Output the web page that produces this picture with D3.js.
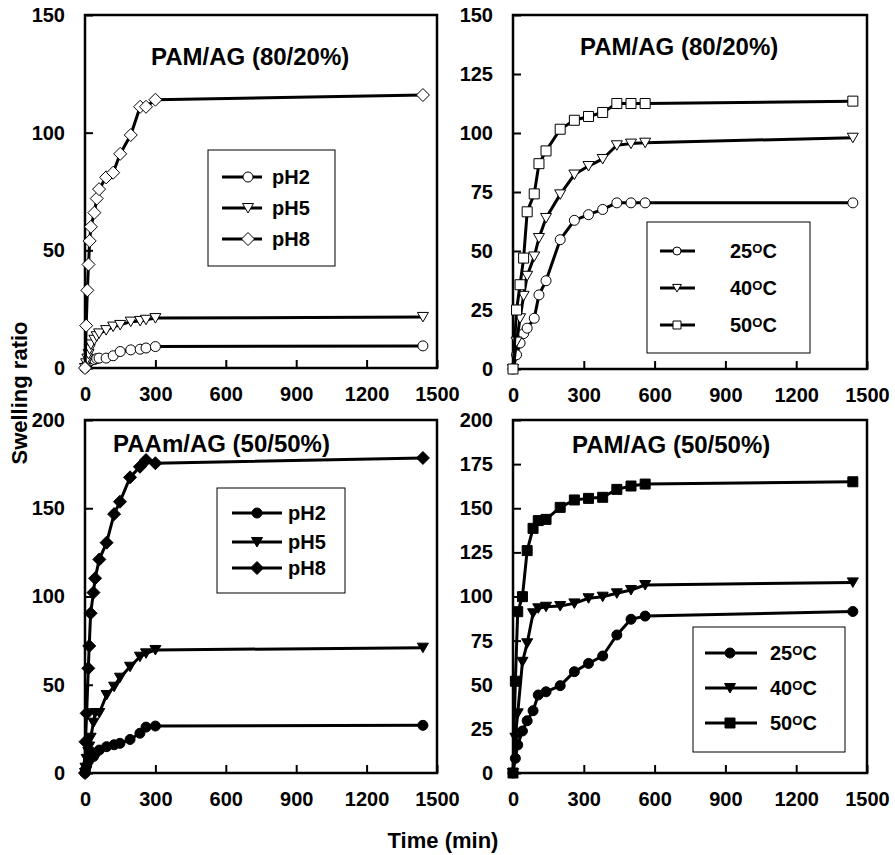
<!DOCTYPE html>
<html>
<head>
<meta charset="utf-8">
<script src="https://cdn.jsdelivr.net/npm/d3@7"></script>
<style>
  body { margin: 0; background: #fff; }
  text { font-family: "Liberation Sans", Arial, sans-serif; font-weight: bold; fill: #000; }
</style>
</head>
<body>
<svg id="chart" width="895" height="855"></svg>
<script>
// ---- data ----
const xTicks = [0, 300, 600, 900, 1200, 1500]

// top-left : pH, PAM/AG 80/20
const tA = [0, 5, 10, 15, 20, 25, 40, 50, 60, 90, 120, 150, 195, 235, 260, 300, 1440]
const a_pH2 = [0, 1, 1.8, 2.4, 2.8, 3.2, 3.6, 4, 4.2, 4.2, 5.2, 7, 7.7, 8, 8.5, 9.1, 9.4]
const a_pH5 = [0, 2, 4, 6, 8, 10, 12, 13.5, 14.7, 16.1, 17.6, 18.3, 19.7, 20, 20.5, 21.2, 21.7]
const a_pH8 = [0, 18, 33, 44, 54, 60, 66, 72, 76, 81, 83, 91, 99, 111, 111, 114, 116]

// top-right : temperature, PAM/AG 80/20
const tB = [0, 15, 30, 45, 60, 90, 110, 140, 200, 260, 320, 380, 440, 500, 560, 1440]
const b_25 = [0, 6, 11, 15, 17.3, 21.5, 31.4, 37.4, 54.8, 63, 65.4, 67.6, 70.4, 70.4, 70.4, 70.4]
const b_40 = [0, 11.6, 21.5, 31, 39.5, 47.7, 55.5, 64, 74, 82.4, 86, 89, 94.8, 95.5, 95.9, 98]
const b_50 = [0, 25, 35.7, 47, 66.6, 74.2, 87, 92.4, 101.6, 105.4, 107, 108.7, 112.5, 112.5, 112.5, 113.5]

// bottom-left : pH, PAAm/AG 50/50
const tC = [0, 2, 7, 14, 18, 24, 36, 43, 61, 92, 124, 149, 192, 234, 260, 300, 1440]
const c_pH2 = [0, 2, 4, 6.6, 8, 9, 9.3, 11, 13, 14.9, 16, 16.8, 19, 22.5, 26, 26.6, 27]
const c_pH5 = [0, 3, 8, 12, 15, 20, 28.5, 34, 34, 44.2, 48.9, 54, 60.2, 65.9, 67.8, 69.7, 71]
const c_pH8 = [0, 17.7, 33.8, 59.3, 72, 90.5, 102.2, 110.3, 121, 130.5, 146.7, 153.7, 167.5, 173.5, 177.3, 175.5, 178.5]

// bottom-right : temperature, PAM/AG 50/50
const tD = [0, 10, 20, 40, 60, 85, 107, 140, 200, 260, 320, 380, 440, 500, 560, 1440]
const d_25 = [0, 8.3, 15.9, 23.8, 29.6, 35.3, 44.2, 46, 49.5, 57.4, 62.1, 66.3, 78.2, 87.1, 88.9, 91.5]
const d_40 = [0, 20, 33.8, 63, 73.5, 90.5, 93.3, 94.2, 94.6, 96.1, 99, 99.9, 101.8, 103.7, 106.5, 108]
const d_50 = [0, 52, 91.4, 99.9, 126, 138.6, 143, 143.7, 150.5, 154.7, 155.6, 156.2, 160.7, 162.6, 163.7, 165]

const pHLabels = ["pH2", "pH5", "pH8"]
const tempLabels = ["25", "40", "50"]

// ---- marker shapes ----
const shapes = {
    circle: "M5,0A5,5 0 1,1 -5,0A5,5 0 1,1 5,0Z",
    diamond: "M0,-6.5L6.5,0L0,6.5L-6.5,0Z",
    triangle: "M-5.5,-4.5L5.5,-4.5L0,5Z",
    square: "M-5,-5H5V5H-5Z"
}

const svg = d3.select("#chart")

let panels = [
    {
        x0: 85, x1: 437, y0: 368, y1: 15, yMax: 150, yStep: 50,
        title: "PAM/AG (80/20%)", tx: 151, ty: 65,
        times: tA, series: [a_pH2, a_pH5, a_pH8], labels: pHLabels, temp: false,
        shapes: ["circle", "triangle", "diamond"], fill: "#fff",
        legend: { x: 208, y: 150, w: 127, h: 116, rows: [177, 208, 239], lx1: 222, lx2: 262, mx: 248, tx: 272, k: 1 }
    },
    {
        x0: 513, x1: 867, y0: 369, y1: 15, yMax: 150, yStep: 25,
        title: "PAM/AG (80/20%)", tx: 580, ty: 55,
        times: tB, series: [b_25, b_40, b_50], labels: tempLabels, temp: true,
        shapes: ["circle", "triangle", "square"], fill: "#fff",
        legend: { x: 647, y: 222, w: 163, h: 131, rows: [251, 288, 325], lx1: 660, lx2: 695, mx: 677, tx: 730, k: 0.8 }
    },
    {
        x0: 85, x1: 437, y0: 773, y1: 420, yMax: 200, yStep: 50,
        title: "PAAm/AG (50/50%)", tx: 113, ty: 452,
        times: tC, series: [c_pH2, c_pH5, c_pH8], labels: pHLabels, temp: false,
        shapes: ["circle", "triangle", "diamond"], fill: "#000",
        legend: { x: 217, y: 488, w: 128, h: 105, rows: [513, 542, 568], lx1: 232, lx2: 282, mx: 257, tx: 288, k: 1 }
    },
    {
        x0: 513, x1: 867, y0: 773, y1: 420, yMax: 200, yStep: 25,
        title: "PAM/AG (50/50%)", tx: 572, ty: 453,
        times: tD, series: [d_25, d_40, d_50], labels: tempLabels, temp: true,
        shapes: ["circle", "triangle", "square"], fill: "#000",
        legend: { x: 693, y: 627, w: 152, h: 125, rows: [653, 688, 723], lx1: 705, lx2: 757, mx: 730, tx: 770, k: 1 }
    }
]

let writeLabel = (sel, p, i) => {
    if (p.temp) {
        sel.append("tspan").text(p.labels[i])
        sel.append("tspan").attr("font-size", 13).attr("dy", -5).text("O")
        sel.append("tspan").attr("dy", 5).text("C")
    } else {
        sel.text(p.labels[i])
    }
}

panels.forEach(p => {
    let x = d3.scaleLinear().domain([0, 1500]).range([p.x0, p.x1])
    let y = d3.scaleLinear().domain([0, p.yMax]).range([p.y0, p.y1])
    let g = svg.append("g")

    // axes with inward ticks
    let yVals = d3.range(0, p.yMax + 0.1, p.yStep)
    g.append("g")
        .attr("transform", "translate(" + p.x0 + ",0)")
        .call(d3.axisLeft(y).tickValues(yVals).tickSize(-8).tickPadding(20).tickFormat(d3.format("d")))
        .call(a => a.select(".domain").remove())
        .call(a => a.selectAll("line").attr("stroke", "#000").attr("stroke-width", 2))
        .call(a => a.selectAll("text").attr("font-size", 20).attr("font-family", null))
    g.append("g")
        .attr("transform", "translate(0," + p.y0 + ")")
        .call(d3.axisBottom(x).tickValues(xTicks).tickSize(-8).tickPadding(19).tickFormat(d3.format("d")))
        .call(a => a.select(".domain").remove())
        .call(a => a.selectAll("line").attr("stroke", "#000").attr("stroke-width", 2))
        .call(a => a.selectAll("text").attr("font-size", 20).attr("font-family", null))

    // frame
    g.append("rect")
        .attr("x", p.x0).attr("y", p.y1)
        .attr("width", p.x1 - p.x0).attr("height", p.y0 - p.y1)
        .attr("fill", "none").attr("stroke", "#000").attr("stroke-width", 2.5)

    g.append("text")
        .attr("x", p.tx).attr("y", p.ty)
        .attr("font-size", 24)
        .text(p.title)

    // series
    let line = d3.line().x(d => x(d[0])).y(d => y(d[1]))
    p.series.forEach((vals, i) => {
        let pts = p.times.map((t, j) => [t, vals[j]])
        g.append("path")
            .attr("d", line(pts))
            .attr("fill", "none").attr("stroke", "#000").attr("stroke-width", 3)
            .attr("stroke-linejoin", "round")
        g.selectAll(null)
            .data(pts)
            .join("path")
            .attr("d", shapes[p.shapes[i]])
            .attr("transform", d => "translate(" + x(d[0]) + "," + y(d[1]) + ")")
            .attr("fill", p.fill).attr("stroke", "#000").attr("stroke-width", 1)
    })

    // legend
    let L = p.legend
    g.append("rect")
        .attr("x", L.x).attr("y", L.y).attr("width", L.w).attr("height", L.h)
        .attr("fill", "#fff").attr("stroke", "#000").attr("stroke-width", 1)
    L.rows.forEach((ry, i) => {
        g.append("line")
            .attr("x1", L.lx1).attr("x2", L.lx2).attr("y1", ry).attr("y2", ry)
            .attr("stroke", "#000").attr("stroke-width", 3)
        g.append("path")
            .attr("d", shapes[p.shapes[i]])
            .attr("transform", "translate(" + L.mx + "," + ry + ") scale(" + L.k + ")")
            .attr("fill", p.fill).attr("stroke", "#000").attr("stroke-width", 1 / L.k)
        let t = g.append("text")
            .attr("x", L.tx).attr("y", ry + 7)
            .attr("font-size", 20)
        writeLabel(t, p, i)
    })
})

// shared axis titles
svg.append("text")
    .attr("transform", "translate(27,393) rotate(-90)")
    .attr("text-anchor", "middle")
    .attr("font-size", 22)
    .text("Swelling ratio")

svg.append("text")
    .attr("x", 443).attr("y", 848)
    .attr("text-anchor", "middle")
    .attr("font-size", 22)
    .text("Time (min)")
</script>
</body>
</html>
